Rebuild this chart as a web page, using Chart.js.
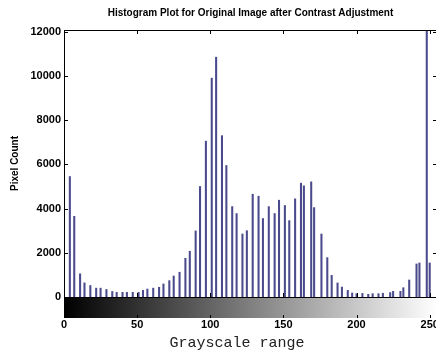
<!DOCTYPE html>
<html>
<head>
<meta charset="utf-8">
<script src="https://cdn.jsdelivr.net/npm/chart.js@4.4.0/dist/chart.umd.min.js"></script>
<style>
  html, body { margin: 0; padding: 0; background: #fff; overflow: hidden; }
  #wrap { position: relative; width: 440px; height: 354px; }
</style>
</head>
<body>
<div id="wrap"><canvas id="histChart"></canvas></div>
<script>
// gray levels that hold pixels after the contrast stretch, and their counts
const grayLevels = [4, 7, 11, 14, 18, 22, 25, 29, 33, 36, 40, 43, 47, 51, 54, 57, 61, 65, 68, 72,
  75, 79, 83, 86, 90, 93, 97, 101, 104, 108, 111, 115, 118, 122, 125, 129, 133, 136, 140, 144,
  147, 151, 154, 158, 162, 164, 169, 171, 176, 180, 183, 187, 190, 194, 197, 200, 204, 208, 211, 215,
  218, 223, 225, 230, 232, 236, 241, 243, 248, 250];
const pixelCounts = [5450, 3650, 1050, 640, 520, 400, 400, 340, 250, 210, 210, 210, 210, 210, 300, 360, 400, 440, 590, 740,
  950, 1120, 1750, 2070, 2990, 5000, 7050, 9900, 10850, 7300, 5950, 4090, 3775, 2850, 3000, 4650, 4560, 3550, 4090, 3775,
  4380, 4140, 3455, 4440, 5150, 5030, 5210, 4045, 2850, 1780, 980, 635, 450, 300, 180, 150, 160, 120, 150, 150,
  170, 200, 255, 255, 420, 770, 1495, 1540, 12080, 1540];
const xTicks = [0, 50, 100, 150, 200, 250];
const yTicks = [0, 2000, 4000, 6000, 8000, 10000, 12000];

const boldFont = "'Liberation Sans', Arial, sans-serif";

// box, inward ticks and the grayscale bar under the axis, MATLAB imhist style
const matlabFrame = {
  id: 'matlabFrame',
  afterDraw(chart) {
    const { ctx, chartArea: a, scales: { x, y } } = chart;
    const x0 = x.getPixelForValue(0), x1 = x.getPixelForValue(255);
    const cbTop = a.bottom, cbBottom = a.bottom + 21;
    ctx.save();
    const grad = ctx.createLinearGradient(x0, 0, x1, 0);
    grad.addColorStop(0, '#000');
    grad.addColorStop(1, '#fff');
    ctx.fillStyle = grad;
    ctx.fillRect(x0, cbTop, x1 - x0, cbBottom - cbTop);

    ctx.strokeStyle = '#000';
    ctx.lineWidth = 1;
    ctx.strokeRect(Math.round(a.left) + 0.5, Math.round(a.top) + 0.5,
      Math.round(a.right - a.left), Math.round(a.bottom - a.top));

    ctx.beginPath();
    yTicks.forEach(v => {
      const py = Math.round(y.getPixelForValue(v)) + 0.5;
      ctx.moveTo(a.left, py); ctx.lineTo(a.left + 4, py);
      ctx.moveTo(a.right, py); ctx.lineTo(a.right - 4, py);
    });
    xTicks.forEach(v => {
      const px = Math.round(x.getPixelForValue(v)) + 0.5;
      ctx.moveTo(px, a.bottom); ctx.lineTo(px, a.bottom - 4);
      ctx.moveTo(px, a.top); ctx.lineTo(px, a.top + 4);
      ctx.moveTo(px, cbBottom); ctx.lineTo(px, cbBottom - 3);
    });
    ctx.stroke();
    ctx.restore();
  }
};

new Chart(document.getElementById('histChart'), {
  type: 'bar',
  data: {
    datasets: [{
      data: grayLevels.map((g, i) => ({ x: g, y: pixelCounts[i] })),
      backgroundColor: '#4a4a8c',
      barThickness: 1.4,
      grouped: false
    }]
  },
  options: {
    responsive: true,
    maintainAspectRatio: false,
    animation: false,
    devicePixelRatio: 1,
    layout: { padding: { left: 0, right: 3, top: 0, bottom: 0 } },
    plugins: {
      legend: { display: false },
      tooltip: { enabled: false },
      title: {
        display: true,
        text: 'Histogram Plot for Original Image after Contrast Adjustment',
        color: '#000',
        fullSize: false,
        font: { family: boldFont, size: 10, weight: 'bold' },
        padding: { top: 7, bottom: 11 }
      }
    },
    scales: {
      x: {
        type: 'linear',
        min: 0,
        max: 255,
        offset: false,
        grid: { display: false, drawTicks: false, offset: false },
        border: { display: false },
        afterBuildTicks: s => { s.ticks = xTicks.map(v => ({ value: v })); },
        afterFit: s => { s.height = 57; s.paddingLeft = 0; s.paddingRight = 0; },
        ticks: {
          color: '#000',
          padding: 21,
          maxRotation: 0,
          autoSkip: false,
          callback: v => String(v),
          font: { family: boldFont, size: 11, weight: 'bold' }
        },
        title: {
          display: true,
          text: 'Grayscale range   ',
          color: '#222',
          font: { family: "'Liberation Mono', 'Courier New', monospace", size: 15 },
          padding: { top: 0, bottom: 2 }
        }
      },
      y: {
        min: 0,
        max: 12080,
        grid: { display: false, drawTicks: false },
        border: { display: false },
        afterBuildTicks: s => { s.ticks = yTicks.map(v => ({ value: v })); },
        afterFit: s => { s.width = 64; },
        ticks: {
          color: '#000',
          padding: 3,
          callback: v => String(v),
          font: { family: boldFont, size: 11, weight: 'bold' }
        },
        title: {
          display: true,
          text: 'Pixel Count',
          color: '#000',
          font: { family: boldFont, size: 10, weight: 'bold' },
          padding: { top: 9, bottom: 0 }
        }
      }
    }
  },
  plugins: [matlabFrame]
});
</script>
</body>
</html>
